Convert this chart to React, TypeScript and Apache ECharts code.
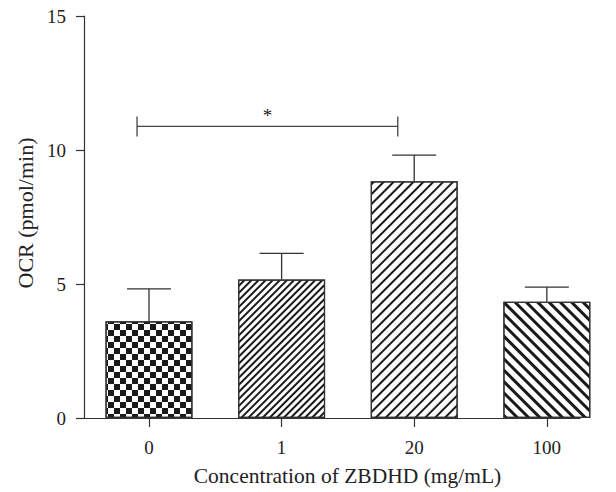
import React, { useEffect, useRef } from "react";
import * as echarts from "echarts";

const categories = ["0", "1", "20", "100"];
const means = [3.61, 5.17, 8.83, 4.34];
const errTops = [4.82, 6.14, 9.81, 4.88];
const yTicks = [0, 5, 10, 15];
// significance bracket: [start x, end x, y level]
const bracket = [[-0.09, 1.876, 10.88]];
const bracketLabel = "*";

const FONT = "Liberation Serif";
const INK = "#333";

const decals: any[] = [
  {
    symbol: "rect",
    symbolSize: 1,
    dashArrayX: [[5.5, 5.5], [0, 5.5, 5.5, 0]],
    dashArrayY: [5.5, 0],
    rotation: 0,
    color: "#1a1a1a",
    backgroundColor: "#fff",
  },
  {
    symbol: "rect",
    symbolSize: 1,
    dashArrayX: [1, 0],
    dashArrayY: [1.6, 2.4],
    rotation: -Math.PI / 4,
    color: "#1a1a1a",
    backgroundColor: "#fff",
  },
  {
    symbol: "rect",
    symbolSize: 1,
    dashArrayX: [1, 0],
    dashArrayY: [2, 5],
    rotation: -Math.PI / 4,
    color: "#1a1a1a",
    backgroundColor: "#fff",
  },
  {
    symbol: "rect",
    symbolSize: 1,
    dashArrayX: [1, 0],
    dashArrayY: [2.4, 5],
    rotation: Math.PI / 4,
    color: "#1a1a1a",
    backgroundColor: "#fff",
  },
];

export default function App() {
  const ref = useRef<HTMLDivElement>(null);
  useEffect(() => {
    const chart = echarts.init(ref.current!, null, { renderer: "svg" });
    const idx = categories.map((_, i) => i);
    chart.setOption({
      animation: false,
      backgroundColor: "#fff",
      grid: { left: 84, right: 36, top: 16, bottom: 72 },
      xAxis: {
        type: "value",
        min: -0.49,
        max: 3.25,
        splitLine: { show: false },
        axisLine: { show: true, onZero: false, lineStyle: { color: INK, width: 1.2 } },
        axisTick: {
          show: true,
          customValues: idx,
          length: 9,
          lineStyle: { color: INK, width: 1.2 },
        },
        axisLabel: {
          customValues: idx,
          formatter: (v: number) => categories[Math.round(v)] ?? "",
          color: "#222",
          fontFamily: FONT,
          fontSize: 19,
          margin: 20,
        },
        name: "Concentration of ZBDHD (mg/mL)",
        nameLocation: "middle",
        nameGap: 47,
        nameTextStyle: { color: "#222", fontFamily: FONT, fontSize: 21.5, padding: [0, 0, 0, 31] },
      },
      yAxis: {
        type: "value",
        min: 0,
        max: 15,
        interval: 5,
        splitLine: { show: false },
        axisLine: { show: true, onZero: false, lineStyle: { color: INK, width: 1.2 } },
        axisTick: { show: true, length: 8, lineStyle: { color: INK, width: 1.2 } },
        axisLabel: {
          customValues: yTicks,
          color: "#222",
          fontFamily: FONT,
          fontSize: 19,
          margin: 18,
        },
        name: "OCR (pmol/min)",
        nameLocation: "middle",
        nameGap: 48,
        nameTextStyle: { color: "#222", fontFamily: FONT, fontSize: 22, padding: [0, 0, 0, 8] },
      },
      series: [
        {
          type: "bar",
          barWidth: 87,
          data: means.map((m, i) => ({
            value: [i, m],
            itemStyle: {
              color: "#fff",
              borderColor: INK,
              borderWidth: 1.2,
              decal: decals[i],
            },
          })),
          z: 2,
        },
        {
          type: "custom",
          z: 3,
          data: means.map((m, i) => [i, m, errTops[i]]),
          renderItem: (params: any, api: any) => {
            const p0 = api.coord([api.value(0), api.value(1)]);
            const p1 = api.coord([api.value(0), api.value(2)]);
            const style = { stroke: INK, lineWidth: 1.3 };
            return {
              type: "group",
              children: [
                { type: "line", shape: { x1: p0[0], y1: p0[1], x2: p1[0], y2: p1[1] }, style },
                { type: "line", shape: { x1: p1[0] - 22, y1: p1[1], x2: p1[0] + 22, y2: p1[1] }, style },
              ],
            };
          },
        },
        {
          type: "custom",
          z: 3,
          data: bracket,
          renderItem: (params: any, api: any) => {
            const a = api.coord([api.value(0), api.value(2)]);
            const b = api.coord([api.value(1), api.value(2)]);
            const style = { stroke: "#444", lineWidth: 1.3 };
            return {
              type: "group",
              children: [
                { type: "line", shape: { x1: a[0], y1: a[1], x2: b[0], y2: b[1] }, style },
                { type: "line", shape: { x1: a[0], y1: a[1] - 10, x2: a[0], y2: a[1] + 10 }, style },
                { type: "line", shape: { x1: b[0], y1: b[1] - 10, x2: b[0], y2: b[1] + 10 }, style },
                {
                  type: "text",
                  x: (a[0] + b[0]) / 2,
                  y: a[1] - 1,
                  style: {
                    text: bracketLabel,
                    fill: "#222",
                    font: `19px ${FONT}`,
                    align: "center",
                    verticalAlign: "bottom",
                  },
                },
              ],
            };
          },
        },
      ],
    });
    return () => chart.dispose();
  }, []);
  return <div ref={ref} style={{ width: 616, height: 492, position: "absolute", left: 0, top: 0 }} />;
}
